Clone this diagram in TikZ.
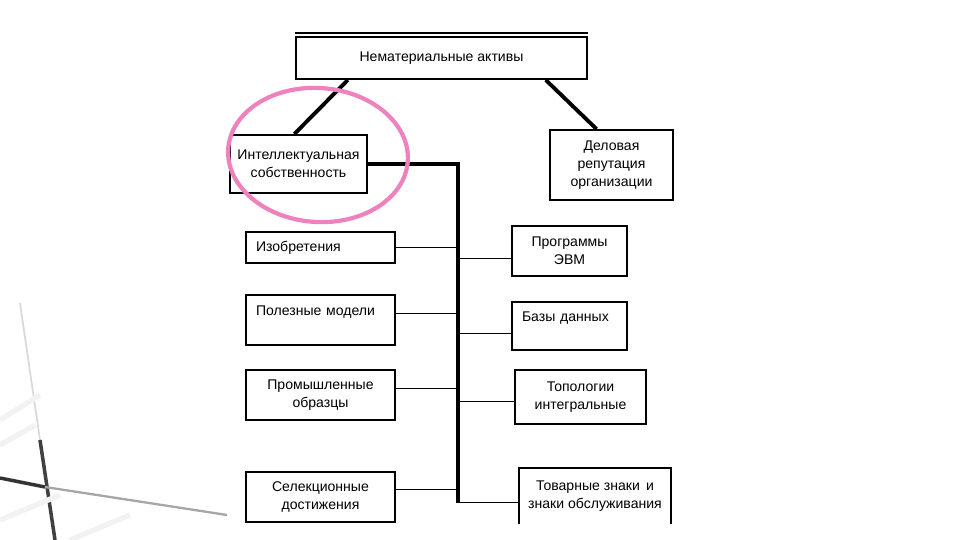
\documentclass[tikz,border=0pt]{standalone}
\usepackage{fontspec}
\setmainfont{Liberation Sans}
\usetikzlibrary{calc}
\definecolor{markpink}{HTML}{EE82BE}
\tikzset{
  box/.style={draw,line width=1.1pt,font=\fontsize{8}{10.3}\selectfont,align=center,inner sep=0pt},
  lbox/.style={box,align=left,inner xsep=0.2cm,text width=#1},
  trunk/.style={line width=2.2pt},
  twig/.style={line width=0.6pt}
}

\begin{document}
\begin{tikzpicture}[x=0.02cm,y=-0.02cm]
\useasboundingbox (0,0) rectangle (960,540);
\draw[black!15,line width=1pt] (20,303)--(40,440);
\draw[black!75,line width=2pt] (40,440)--(55,540);
\draw[black!80,line width=2pt] (0,478)--(45,487);
\draw[black!35,line width=1.3pt] (45,487)--(227,515);
\draw[black!5,line width=3pt] (0,420)--(40,395) (0,445)--(35,425) (0,520)--(60,495) (70,540)--(130,515);

\node[box,minimum width=5.82cm,minimum height=0.84cm] (nma) at (441.5,58) {Нематериальные активы};
\draw[line width=1.1pt] ([yshift=1.8pt]nma.north west)--([yshift=1.8pt]nma.north east);
\node[box,minimum width=2.74cm,minimum height=1.16cm] (ip) at (298.5,164) {Интеллектуальная\\собственность};
\node[box,minimum width=2.46cm,minimum height=1.4cm] (rep) at (611.5,165) {Деловая\\репутация\\организации};

\node[lbox=2.58cm,minimum height=0.62cm] (inv) at (320.5,247.5) {Изобретения};
\node[lbox=2.58cm,minimum height=1cm] (util) at (320.5,320) {Полезные модели\\\mbox{}};
\node[box,minimum width=2.98cm,minimum height=1cm] (ind) at (320.5,395) {Промышленные\\образцы};
\node[box,minimum width=2.98cm,minimum height=1cm] (sel) at (320.5,497) {Селекционные\\достижения};

\node[box,minimum width=2.3cm,minimum height=1cm] (prog) at (569.5,251) {Программы\\ЭВМ};
\node[lbox=1.9cm,minimum height=0.96cm] (db) at (569.5,326) {Базы данных\\\mbox{}};
\node[box,minimum width=2.62cm,minimum height=1.08cm] (topo) at (580.5,397) {Топологии\\интегральные};
\node[box,draw=none,minimum width=3cm,minimum height=1.1cm] (tm) at (595,496) {Товарные знаки\, и\\знаки обслуживания};
\draw[line width=1.1pt] (tm.south west)--(tm.north west)--(tm.north east)--(tm.south east);

\draw[trunk] ($(nma.south west)!.18!(nma.south east)$)--($(ip.north west)!.47!(ip.north east)$);
\draw[trunk] ($(nma.south west)!.856!(nma.south east)$)--($(rep.north west)!.38!(rep.north east)$);
\coordinate (tend) at (458,503);
\draw[trunk] (ip.east) -| (tend);

\draw[twig] (inv.east)--(inv.east -| tend);
\draw[twig] (util.5)--(util.5 -| tend);
\draw[twig] (ind.5)--(ind.5 -| tend);
\draw[twig] (sel.6)--(sel.6 -| tend);
\draw[twig] (prog.187 -| tend)--(prog.187);
\draw[twig] (db.187 -| tend)--(db.187);
\draw[twig] (topo.184 -| tend)--(topo.184);
\draw[twig] (tm.185 -| tend)--(tm.185);

\draw[markpink,line width=2.4pt,rotate around={-4:(318,155)}] (318,155) ellipse [x radius=90,y radius=67];
\end{tikzpicture}
\end{document}
